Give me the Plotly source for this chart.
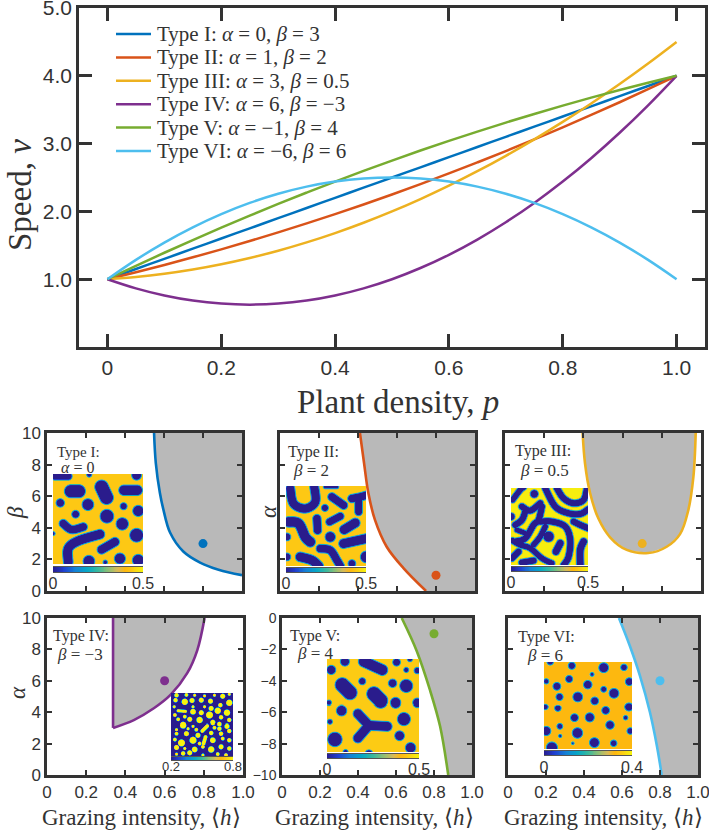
import numpy as np
import plotly.graph_objects as go

W, H = 709, 830
INK = "#333333"
SANS = "Liberation Sans"
SERIF = "Liberation Serif"
GREY = "#b9b9b9"
C1, C2, C3, C4, C5, C6 = "#0072BD", "#D95319", "#EDB120", "#7E2F8E", "#77AC30", "#4DBEEE"
PARULA = [[0, "#2a1c8c"], [.12, "#1f3fd0"], [.25, "#1482d6"], [.38, "#06a7c6"], [.5, "#38b99e"],
          [.62, "#92bf73"], [.72, "#d9ba56"], [.8, "#fdb80f"], [.87, "#fdc814"], [1, "#f5f50e"]]

# ---- top panel: speed against plant density ----
plant_density = [0, .05, .1, .15, .2, .25, .3, .35, .4, .45, .5, .55, .6, .65, .7, .75, .8, .85, .9, .95, 1]
speed_type1 = [1, 1.15, 1.3, 1.45, 1.6, 1.75, 1.9, 2.05, 2.2, 2.35, 2.5, 2.65, 2.8, 2.95, 3.1, 3.25, 3.4, 3.55, 3.7, 3.85, 4]
speed_type2 = [1, 1.1025, 1.21, 1.3225, 1.44, 1.5625, 1.69, 1.8225, 1.96, 2.1025, 2.25, 2.4025, 2.56, 2.7225, 2.89, 3.0625, 3.24, 3.4225, 3.61, 3.8025, 4]
speed_type3 = [1, 1.0325, 1.08, 1.1425, 1.22, 1.3125, 1.42, 1.5425, 1.68, 1.8325, 2, 2.1825, 2.38, 2.5925, 2.82, 3.0625, 3.32, 3.5925, 3.88, 4.1825, 4.5]
speed_type4 = [1, .865, .76, .685, .64, .625, .64, .685, .76, .865, 1, 1.165, 1.36, 1.585, 1.84, 2.125, 2.44, 2.785, 3.16, 3.565, 4]
speed_type5 = [1, 1.1975, 1.39, 1.5775, 1.76, 1.9375, 2.11, 2.2775, 2.44, 2.5975, 2.75, 2.8975, 3.04, 3.1775, 3.31, 3.4375, 3.56, 3.6775, 3.79, 3.8975, 4]
speed_type6 = [1, 1.285, 1.54, 1.765, 1.96, 2.125, 2.26, 2.365, 2.44, 2.485, 2.5, 2.485, 2.44, 2.365, 2.26, 2.125, 1.96, 1.765, 1.54, 1.285, 1]
legend_names = [
    "Type I: <i>α</i> = 0, <i>β</i> = 3", "Type II: <i>α</i> = 1, <i>β</i> = 2",
    "Type III: <i>α</i> = 3, <i>β</i> = 0.5", "Type IV: <i>α</i> = 6, <i>β</i> = −3",
    "Type V: <i>α</i> = −1, <i>β</i> = 4", "Type VI: <i>α</i> = −6, <i>β</i> = 6"]

# ---- phase boundaries ----
b1_h = [.549, .558, .579, .596, .631, .699, .785, .88, 1.0]
b1_v = [10, 8.1, 6.2, 5.2, 3.7, 2.5, 1.8, 1.35, 1.0]
b2_h = [.41, .431, .453, .487, .547, .633, .749]
b2_v = [10, 8.1, 6.2, 4.5, 2.8, 1.45, 0]
b3_h = [.396, .408, .434, .476, .536, .621, .731, .825, .893, .935, .961, .973]
b3_v = [10, 8.1, 6.2, 4.6, 3.4, 2.6, 2.4, 2.8, 3.6, 5.1, 7.2, 10]
b4_h = [.337, .443, .545, .63, .716, .767, .804]
b4_v = [3, 3.5, 4.25, 5.1, 6.5, 7.96, 10]
b5_h = [.63, .709, .779, .832, .875]
b5_v = [0, -2.1, -4.6, -6.9, -10]
b6_h = [.584, .642, .695, .747, .783, .809]
b6_v = [10, 8.2, 6.3, 4.0, 1.9, 0]
dots_h = [.8, .8, .7, .6, .8, .8]
dots_v = [3, 1, 3, 6, -1, 6]

# ---- inset patterns: (radius, [(x, y), ...]) strokes, in crop pixels ----
pat1 = [(12, [(165, 168), (205, 168)]), (20, [(213, 213), (237, 213)]), (21, [(305, 200), (320, 232)]),
        (16, [(372, 210), (412, 210)]), (13, [(181, 248)]), (18, [(264, 253)]), (11, [(371, 258)]),
        (17, [(415, 272)]), (12, [(227, 282)]), (21, [(321, 288)]), (19, [(367, 311)]), (21, [(410, 345)]),
        (13, [(190, 310), (215, 328), (250, 320)]), (15, [(205, 425), (205, 385), (235, 362), (300, 342)]),
        (14, [(305, 388), (345, 365)]), (18, [(267, 423)]), (7, [(316, 426)]), (17, [(360, 415)]),
        (18, [(415, 420)]), (6, [(160, 340)]), (8, [(268, 163)]), (15, [(410, 165)])]
pat2 = [(14, [(150, 205), (160, 250), (195, 265), (225, 245), (222, 200)]), (6, [(255, 200), (290, 200)]),
        (13, [(275, 230), (310, 255)]), (13, [(335, 235), (360, 230), (378, 225)]), (12, [(355, 235), (355, 275)]),
        (11, [(254, 263)]), (12, [(268, 305), (300, 288)]), (13, [(230, 295), (232, 330)]),
        (15, [(312, 328), (345, 308)]), (16, [(145, 305), (175, 310), (195, 350), (210, 365)]), (12, [(140, 350)]),
        (16, [(270, 350)]), (15, [(310, 370), (378, 355)]), (13, [(240, 385), (270, 390), (290, 420), (300, 437)]),
        (15, [(180, 410), (215, 420), (235, 437)]), (12, [(140, 410)]), (18, [(378, 410)]), (12, [(335, 430)])]
pat3 = [(8, [(22, 50), (45, 20), (55, 12)]), (11, [(87, 32)]), (9, [(120, 15), (150, 70), (190, 90), (225, 92), (249, 78)]),
        (9, [(155, 15), (175, 45), (205, 60), (235, 50), (245, 15)]), (10, [(18, 100)]),
        (9, [(50, 70), (75, 82), (105, 60)]), (9, [(60, 85), (50, 110), (30, 125)]),
        (9, [(110, 70), (100, 110), (85, 125), (60, 165), (30, 175)]),
        (9, [(105, 115), (140, 115), (180, 130), (195, 170), (190, 220), (175, 246)]), (7, [(35, 140), (60, 150)]),
        (8, [(22, 172), (45, 185), (75, 195), (110, 225), (140, 240)]), (15, [(130, 160)]), (10, [(152, 205), (165, 180)]),
        (8, [(85, 185), (105, 160), (120, 130)]), (9, [(205, 115), (225, 125), (249, 135)]),
        (10, [(235, 175), (225, 200), (225, 246)]), (9, [(20, 225), (40, 205)]), (9, [(50, 238), (85, 232)])]
pat4 = [(5, [(25, 15)]), (4, [(55, 14)]), (3, [(80, 15)]), (3, [(110, 17)]), (3, [(140, 15)]), (6, [(165, 18)]), (3, [(185, 12)]),
        (5, [(22, 30)]), (8, [(50, 35)]), (6, [(72, 31)]), (6, [(100, 30)]), (6, [(128, 33)]), (5, [(158, 45)]), (8, [(185, 38)]),
        (3, [(18, 50)]), (3, [(75, 50)]), (6, [(130, 55)]), (3, [(110, 50)]), (3, [(30, 62), (52, 64)]), (7, [(75, 65)]),
        (6, [(100, 68)]), (8, [(150, 62)]), (8, [(178, 68)]), (9, [(125, 75)]), (4, [(20, 75)]), (4, [(50, 80)]), (5, [(160, 82)]),
        (5, [(185, 90)]), (4, [(30, 88)]), (6, [(65, 88)]), (8, [(95, 90)]), (6, [(135, 97)]), (5, [(155, 102)]), (6, [(178, 108)]),
        (8, [(45, 105)]), (3, [(75, 108)]), (4, [(103, 122), (118, 107)]), (4, [(140, 112)]), (3, [(25, 118)]), (3, [(60, 115)]),
        (5, [(155, 115)]), (4, [(85, 118)]), (4, [(25, 130)]), (6, [(55, 130)]), (6, [(90, 135)]), (5, [(130, 128)]), (5, [(160, 130)]),
        (5, [(185, 122)]), (9, [(40, 158)]), (4, [(20, 148)]), (9, [(75, 150)]), (4, [(107, 160), (113, 140)]), (7, [(135, 150)]),
        (4, [(165, 145)]), (5, [(185, 150)]), (4, [(95, 160)]), (6, [(25, 172)]), (3, [(50, 175)]), (6, [(65, 188)]), (7, [(80, 178)]),
        (8, [(130, 178)]), (4, [(105, 170)]), (6, [(160, 170)]), (5, [(185, 175)]), (5, [(45, 190)]), (3, [(105, 195)]), (4, [(150, 192)]),
        (4, [(175, 195)]), (3, [(25, 192)])]
pat5 = [(14, [(313, 155)]), (17, [(370, 155), (425, 180)]), (12, [(468, 157)]), (8, [(508, 148)]), (8, [(497, 180)]),
        (14, [(272, 180)]), (10, [(530, 182)]), (22, [(305, 225), (328, 248)]), (11, [(365, 214)]), (13, [(456, 220)]),
        (20, [(497, 228)]), (22, [(400, 252), (420, 272)]), (16, [(465, 278)]), (14, [(530, 278)]), (8, [(265, 278)]),
        (16, [(303, 301)]), (20, [(490, 326)]), (8, [(268, 334)]), (15, [(352, 310), (385, 345)]), (15, [(385, 345), (440, 348)]),
        (15, [(385, 345), (352, 383)]), (22, [(283, 387)]), (15, [(477, 376)]), (16, [(510, 412)]), (8, [(315, 425)]), (12, [(385, 430)])]
pat6 = [(10, [(240, 155)]), (11, [(305, 167)]), (15, [(401, 173)]), (10, [(462, 172)]), (6, [(366, 193)]), (11, [(297, 207)]),
        (8, [(228, 214)]), (12, [(260, 229)]), (13, [(353, 224)]), (12, [(478, 215)]), (9, [(401, 238)]), (15, [(432, 250)]),
        (11, [(268, 261)]), (15, [(323, 261)]), (12, [(374, 273)]), (9, [(225, 292)]), (10, [(263, 296)]), (13, [(477, 292)]),
        (12, [(407, 303)]), (12, [(313, 325)]), (14, [(359, 324)]), (7, [(467, 325)]), (13, [(420, 347)]), (9, [(269, 351)]),
        (14, [(228, 365)]), (16, [(322, 371)]), (10, [(481, 365)]), (5, [(270, 380)]), (15, [(373, 400)]), (10, [(431, 402)]),
        (4, [(308, 402)]), (17, [(245, 415)])]
cbar_ticks = [[0, .5], [0, .5], [0, .5], [.2, .8], [0, .5], [0, .4]]
panel_titles = [("Type I:", "<i>α</i> = 0"), ("Type II:", "<i>β</i> = 2"), ("Type III:", "<i>β</i> = 0.5"),
                ("Type IV:", "<i>β</i> = −3"), ("Type V:", "<i>β</i> = 4"), ("Type VI:", "<i>β</i> = 6")]


def dom(l, t, r, b):
    return [l / W, r / W], [1 - b / H, 1 - t / H]


def smooth(pts):
    """Catmull-Rom subdivision so hand-read stroke centres bend smoothly."""
    if len(pts) < 3:
        return pts
    p = [pts[0]] + list(pts) + [pts[-1]]
    out = []
    for i in range(1, len(p) - 2):
        for t in np.linspace(0, 1, 8, endpoint=False):
            q = [.5 * (2 * p[i][j] + (p[i + 1][j] - p[i - 1][j]) * t
                       + (2 * p[i - 1][j] - 5 * p[i][j] + 4 * p[i + 1][j] - p[i + 2][j]) * t ** 2
                       + (3 * p[i][j] - p[i - 1][j] - 3 * p[i + 1][j] + p[i + 2][j]) * t ** 3) for j in (0, 1)]
            out.append(tuple(q))
    out.append(pts[-1])
    return out


def raster(strokes, ox, oy, size, bg, fg, n, edge, grow=0):
    """Paint strokes (crop pixels) on an n x n grid by distance to each stroke."""
    c = (np.arange(n) + .5) / n * size
    X, Y = np.meshgrid(ox + c, oy + c)
    d = np.full_like(X, 1e9)
    for r, pts in strokes:
        pts = smooth(pts) if len(pts) > 1 else pts + pts
        for (x0, y0), (x1, y1) in zip(pts[:-1], pts[1:]):
            ax, ay = x1 - x0, y1 - y0
            t = np.clip(((X - x0) * ax + (Y - y0) * ay) / max(ax * ax + ay * ay, 1e-9), 0, 1)
            d = np.minimum(d, np.hypot(X - x0 - t * ax, Y - y0 - t * ay) - r - grow)
    m = np.clip((d + edge) / (2 * edge), 0, 1)
    return np.round(fg + (bg - fg) * m, 3).tolist()


fig = go.Figure()
lay = {}


def axis_style(**kw):
    a = dict(showgrid=False, zeroline=False, showline=True, linecolor=INK, mirror="ticks", ticks="inside",
             tickcolor=INK, layer="above traces", fixedrange=True, automargin=False, ticklabeloverflow="allow")
    a.update(kw)
    return a


# main
dx, dy = dom(79, 8, 705, 347)
lay["xaxis"] = axis_style(domain=dx, range=[-.05, 1.05], tickvals=[0, .2, .4, .6, .8, 1],
                          ticktext=["0", "0.2", "0.4", "0.6", "0.8", "1.0"], ticklen=13, tickwidth=2.5, linewidth=2.5,
                          tickfont=dict(family=SANS, size=21, color=INK), anchor="y")
lay["yaxis"] = axis_style(domain=dy, range=[0, 5], tickvals=[1, 2, 3, 4, 5],
                          ticktext=["1.0", "2.0", "3.0", "4.0", "5.0"], ticklen=13, tickwidth=2.5, linewidth=2.5,
                          tickfont=dict(family=SANS, size=21, color=INK), anchor="x")
for name, vals, col in zip(legend_names, [speed_type1, speed_type2, speed_type3, speed_type4, speed_type5, speed_type6],
                           [C1, C2, C3, C4, C5, C6]):
    fig.add_trace(go.Scatter(x=plant_density, y=vals, mode="lines", name=name, showlegend=False,
                             line=dict(color=col, width=2.5, shape="spline")))

# phase panels
panels = [(47, 433, 242, 591), (280, 433, 475, 591), (505, 433, 701, 591),
          (47, 618, 243, 775), (282, 618, 472, 775), (508, 618, 698, 775)]
cols = [C1, C2, C3, C4, C5, C6]
bounds = [(b1_h, b1_v), (b2_h, b2_v), (b3_h, b3_v), (b4_h, b4_v), (b5_h, b5_v), (b6_h, b6_v)]
closing = [[(1, 1), (1, 10)], [(1, 0), (1, 10)], [], [(.337, 10)], [(1, -10), (1, 0)], [(1, 0), (1, 10)]]
for i, (box, col, (bh, bv)) in enumerate(zip(panels, cols, bounds)):
    k = i + 2
    dx, dy = dom(*box)
    lo, hi = (-10, 0) if i == 4 else (0, 10)
    show_x = i >= 3
    lay[f"xaxis{k}"] = axis_style(domain=dx, range=[0, 1], anchor=f"y{k}", tickvals=[0, .2, .4, .6, .8, 1],
                                  ticktext=["0", "0.2", "0.4", "0.6", "0.8", "1.0"], showticklabels=show_x,
                                  ticklen=5, tickwidth=2, linewidth=2.5,
                                  tickfont=dict(family=SANS, size=17, color=INK))
    tv = list(range(lo, hi + 1, 2))
    lay[f"yaxis{k}"] = axis_style(domain=dy, range=[lo, hi], anchor=f"x{k}", tickvals=tv,
                                  ticktext=[str(v).replace("-", "−") for v in tv], showticklabels=i in (0, 3, 4),
                                  ticklen=5, tickwidth=2, linewidth=2.5,
                                  tickfont=dict(family=SANS, size=14 if i == 4 else 17, color=INK))
    cx = [p[0] for p in closing[i]]
    cy = [p[1] for p in closing[i]]
    fig.add_trace(go.Scatter(x=list(bh) + cx, y=list(bv) + cy, mode="lines", fill="toself", fillcolor=GREY,
                             line=dict(width=0), showlegend=False, xaxis=f"x{k}", yaxis=f"y{k}"))
    fig.add_trace(go.Scatter(x=bh, y=bv, mode="lines", line=dict(color=col, width=2.6, shape="spline"),
                             showlegend=False, xaxis=f"x{k}", yaxis=f"y{k}"))
    if i == 3:
        fig.add_trace(go.Scatter(x=[bh[0], bh[0]], y=[bv[0], 10], mode="lines", line=dict(color=col, width=2.6),
                                 showlegend=False, xaxis=f"x{k}", yaxis=f"y{k}"))
    fig.add_trace(go.Scatter(x=[dots_h[i]], y=[dots_v[i]], mode="markers", marker=dict(color=col, size=9),
                             showlegend=False, xaxis=f"x{k}", yaxis=f"y{k}"))

# insets: (px box), colorbar rows, pattern, crop origin and size, colours
insets = [
    ((53, 474, 143, 564), (567, 572), pat1, 160, 162, 270, .87, 0, 16, 1.0, 0, -3),
    ((286, 486, 366, 566), (568, 572), pat2, 138, 198, 240, .87, 0, 16, 1.0, 0, -3),
    ((511, 488, 588, 565), (567, 571), pat3, 18, 15, 231, .98, 0, 16, 1.0, 2, -3),
    ((171, 693, 233, 756), (757, 760), pat4, 9, 9, 188, 0, 1, 13, .5, 1.5, -6),
    ((327, 659, 419, 752), (754, 758), pat5, 260, 148, 276, .88, 0, 16, 1.0, 0, -3),
    ((544, 662, 632, 749), (751, 755), pat6, 222, 155, 265, .8, 0, 16, 1.0, 0, -2),
]
for i, (box, cb, pat, ox, oy, size, bg, fg, fs, ew, grow, standoff) in enumerate(insets):
    k = 8 + i
    l, t, r, b = box
    n = int((r - l) * 2)
    z = raster(pat, ox, oy, size, bg, fg, n, size / (r - l) * ew, grow)
    dx, dy = dom(*box)
    lay[f"xaxis{k}"] = dict(domain=dx, range=[0, 1], anchor=f"y{k}", visible=False, fixedrange=True, automargin=False)
    lay[f"yaxis{k}"] = dict(domain=dy, range=[1, 0], anchor=f"x{k}", visible=False, fixedrange=True, automargin=False)
    c = ((np.arange(n) + .5) / n).tolist()
    fig.add_trace(go.Heatmap(x=c, y=c, z=z, zmin=0, zmax=1, colorscale=PARULA, showscale=False,
                             xaxis=f"x{k}", yaxis=f"y{k}", hoverinfo="skip"))
    # colour bar strip with its own axis and tick labels
    k2 = 14 + i
    dx, dy = dom(l, cb[0], r, cb[1])
    lo, hi = cbar_ticks[i]
    lay[f"xaxis{k2}"] = dict(domain=dx, range=[lo, hi], anchor=f"y{k2}", tickvals=[lo, hi],
                             ticktext=[str(lo), str(hi)], ticks="", showline=True, linecolor="#555555", linewidth=.8, mirror=True,
                             tickfont=dict(family=SANS, size=fs, color=INK), showgrid=False, zeroline=False, fixedrange=True,
                             ticklabelstandoff=standoff, ticklabeloverflow="allow", automargin=False)
    lay[f"yaxis{k2}"] = dict(domain=dy, range=[0, 1], anchor=f"x{k2}", visible=False, fixedrange=True, automargin=False)
    strip = np.linspace(lo, hi, 100)
    fig.add_trace(go.Heatmap(x=strip.tolist(), y=[.5], z=[np.linspace(0, 1, 100).tolist()], zmin=0, zmax=1,
                             colorscale=PARULA, showscale=False, xaxis=f"x{k2}", yaxis=f"y{k2}", hoverinfo="skip"))


def note(px, py, text, size, angle=0, family=SERIF, anchor="center"):
    return dict(xref="paper", yref="paper", x=px / W, y=1 - py / H, text=text, showarrow=False, textangle=angle,
                xanchor=anchor, yanchor="middle", font=dict(family=family, size=size, color=INK))


ann = [note(398, 402, "Plant density, <i>p</i>", 33), note(20, 195, "Speed, <i>v</i>", 33, -90),
       note(15, 512, "<i>β</i>", 23, -90), note(268, 512, "<i>α</i>", 23, -90), note(17, 693, "<i>α</i>", 23, -90),
       note(141, 817, "Grazing intensity, ⟨<i>h</i>⟩", 23), note(375, 817, "Grazing intensity, ⟨<i>h</i>⟩", 23),
       note(603, 817, "Grazing intensity, ⟨<i>h</i>⟩", 23)]
title_px = [((78, 452), (77, 467)), ((313, 452), (311, 470)), ((543, 451), (544, 470)),
            ((81, 636), (80, 654)), ((315, 636), (315, 653)), ((546, 637), (545, 655))]
for j, ((a, b), (p, q)) in enumerate(zip(panel_titles, title_px)):
    fsz = 15 if j == 0 else 16
    ann += [note(p[0], p[1], a, fsz), note(q[0], q[1], b, fsz + 1)]

# legend key lines and texts
shapes = []
for j, (name, col) in enumerate(zip(legend_names, cols)):
    ly = 34 + j * 23.4
    shapes.append(dict(type="line", xref="paper", yref="paper", x0=116 / W, x1=151 / W, y0=1 - ly / H, y1=1 - ly / H,
                       line=dict(color=col, width=2.5)))
    ann.append(note(155, ly, name, 21, anchor="left"))

fig.update_layout(width=W, height=H, autosize=False, margin=dict(l=0, r=0, t=0, b=0), paper_bgcolor="white",
                  plot_bgcolor="rgba(0,0,0,0)", annotations=ann, shapes=shapes, hovermode=False, showlegend=False,
                  **lay)
fig.write_html("out.html", config=dict(displayModeBar=False),
               post_script="document.body.style.margin='0';document.body.style.overflow='hidden';")
